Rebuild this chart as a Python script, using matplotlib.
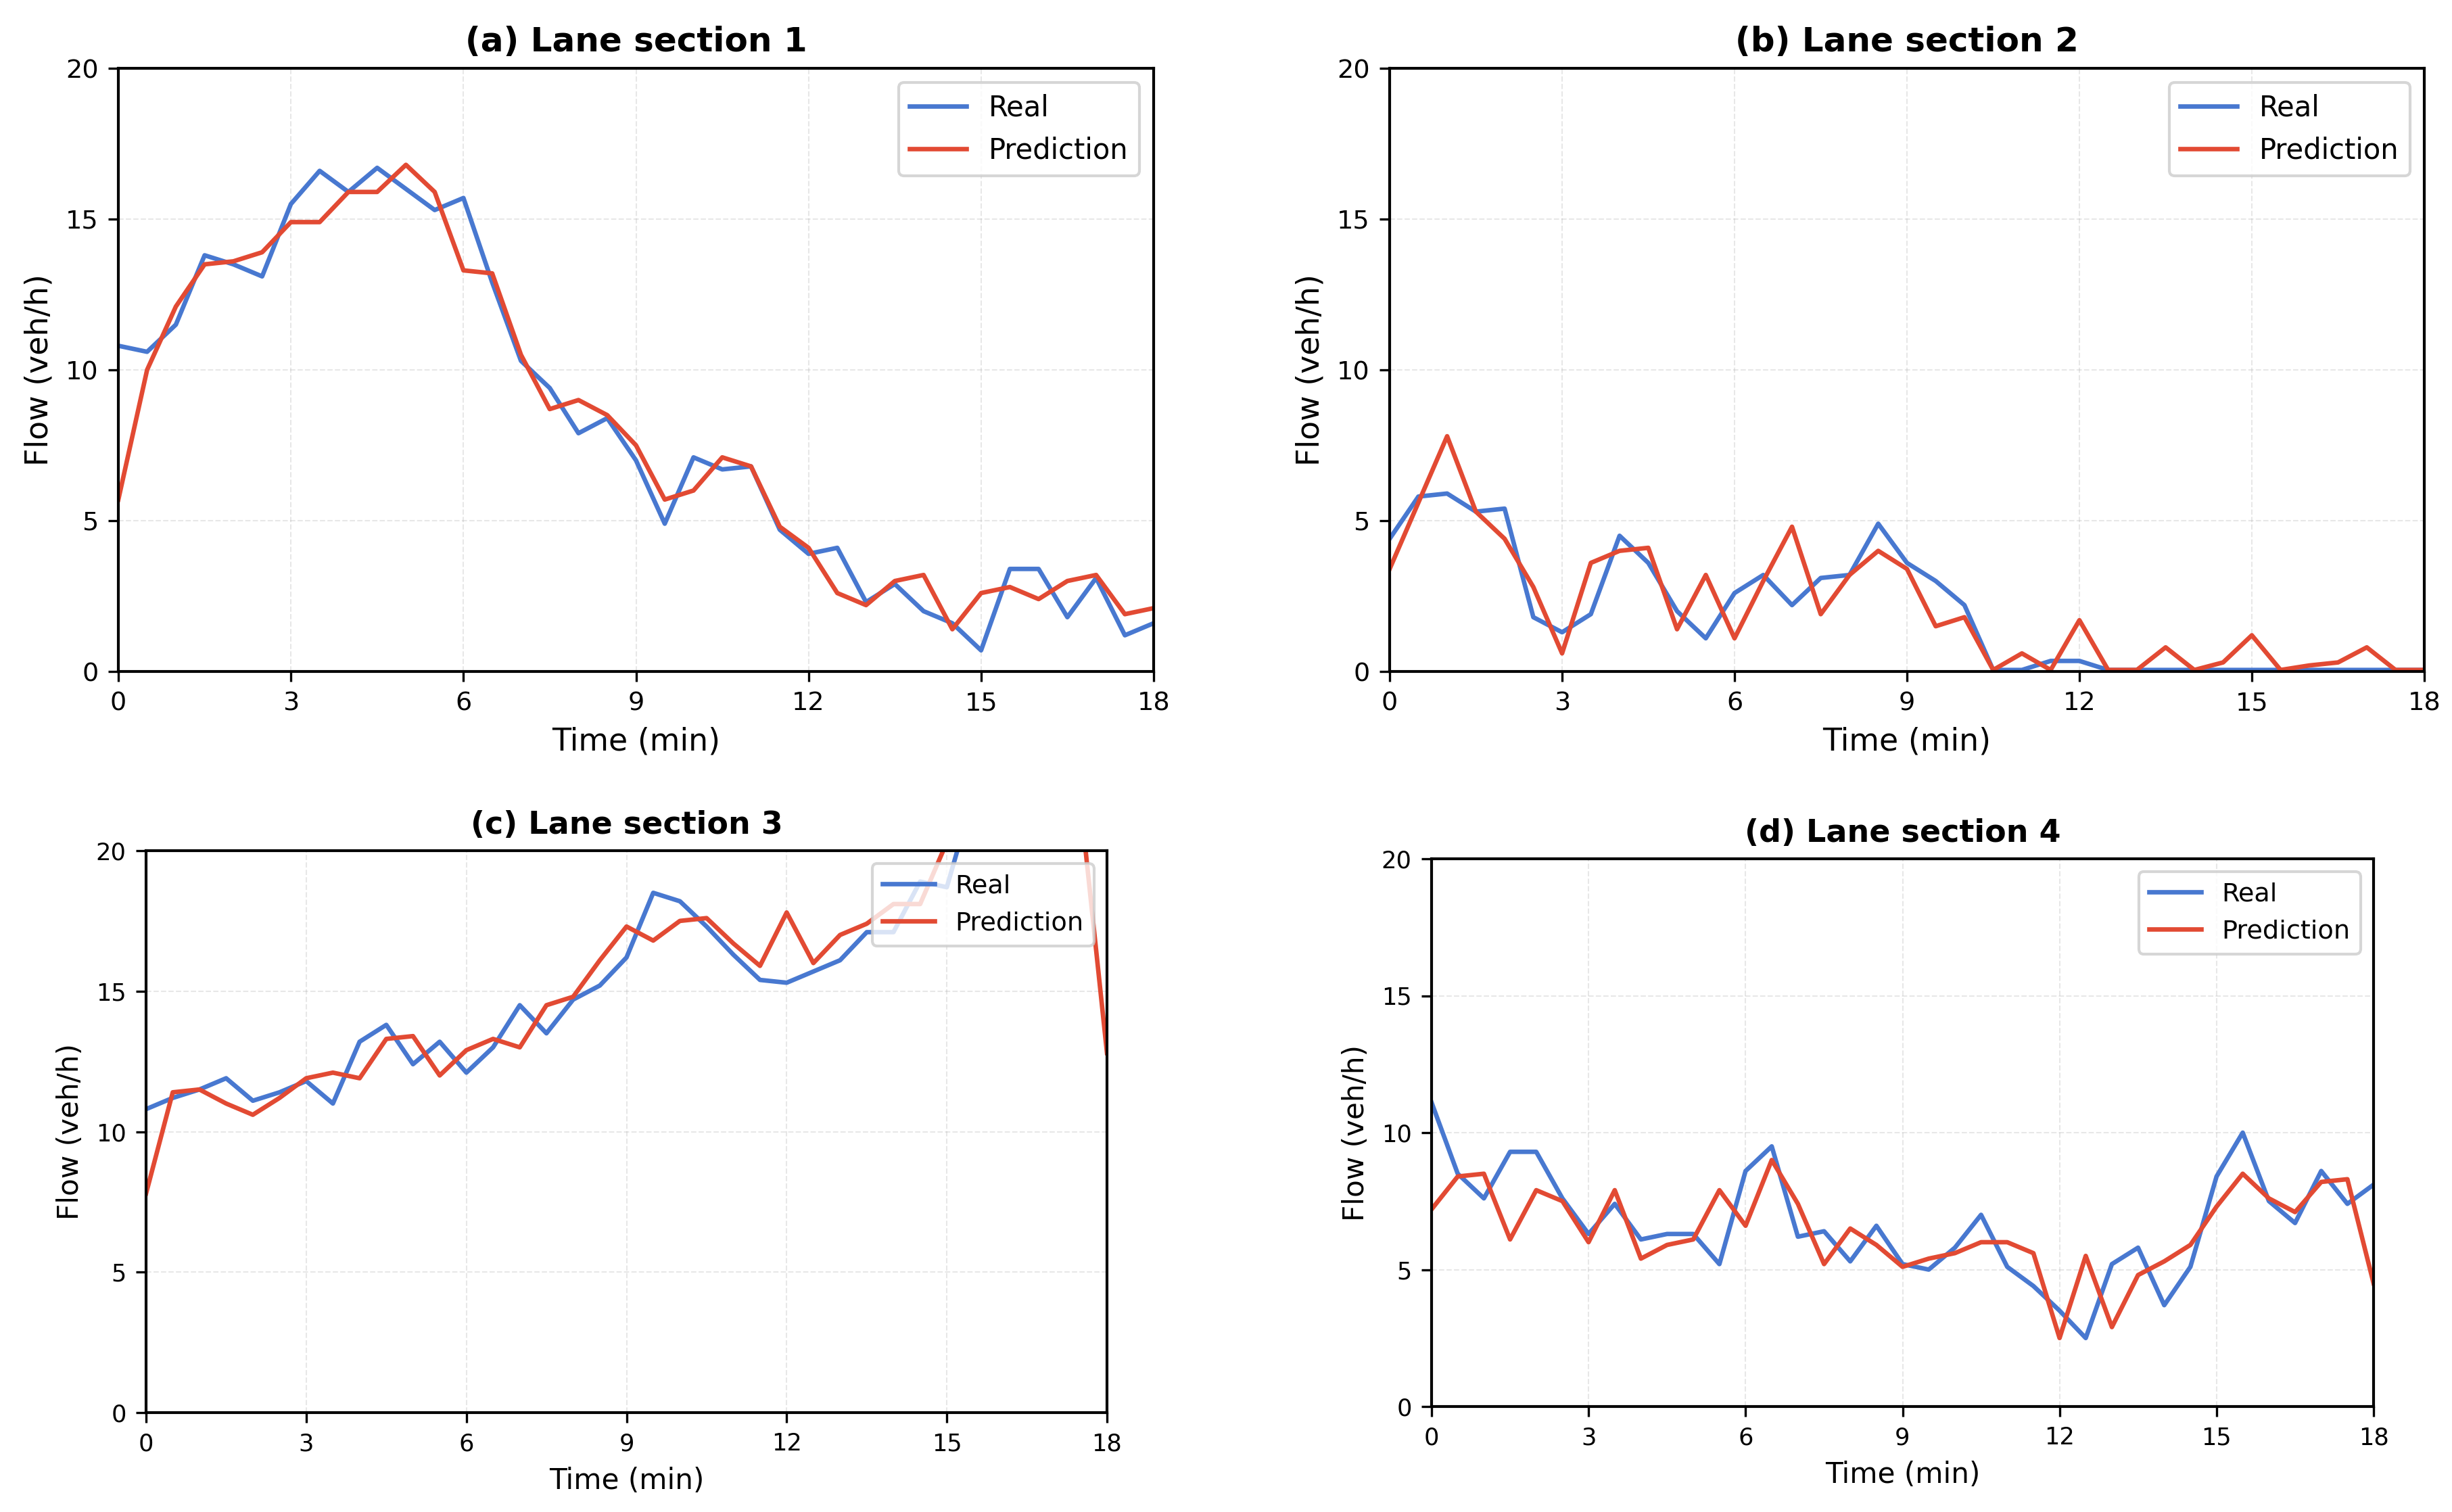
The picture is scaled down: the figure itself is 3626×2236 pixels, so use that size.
import numpy as np
import matplotlib
matplotlib.use('Agg')
import matplotlib.pyplot as plt

# time axis: 0 .. 18 min every 0.5 min
time_min = np.arange(0, 18.5, 0.5)

titles = ['(a) Lane section 1', '(b) Lane section 2',
          '(c) Lane section 3', '(d) Lane section 4']

real_1 = [10.8, 10.6, 11.5, 13.8, 13.5, 13.1, 15.5, 16.6, 15.9, 16.7, 16.0, 15.3, 15.7,
          12.9, 10.3, 9.4, 7.9, 8.4, 7.0, 4.9, 7.1, 6.7, 6.8, 4.7, 3.9, 4.1, 2.3,
          2.9, 2.0, 1.6, 0.7, 3.4, 3.4, 1.8, 3.1, 1.2, 1.6]
pred_1 = [5.7, 10.0, 12.1, 13.5, 13.6, 13.9, 14.9, 14.9, 15.9, 15.9, 16.8, 15.9, 13.3,
          13.2, 10.5, 8.7, 9.0, 8.5, 7.5, 5.7, 6.0, 7.1, 6.8, 4.8, 4.1, 2.6, 2.2,
          3.0, 3.2, 1.4, 2.6, 2.8, 2.4, 3.0, 3.2, 1.9, 2.1]

real_2 = [4.4, 5.8, 5.9, 5.3, 5.4, 1.8, 1.3, 1.9, 4.5, 3.6, 2.0, 1.1, 2.6,
          3.2, 2.2, 3.1, 3.2, 4.9, 3.6, 3.0, 2.2, 0.05, 0.05, 0.35, 0.35, 0.05, 0.05,
          0.05, 0.05, 0.05, 0.05, 0.05, 0.05, 0.05, 0.05, 0.05, 0.05]
pred_2 = [3.4, 5.6, 7.8, 5.3, 4.4, 2.8, 0.6, 3.6, 4.0, 4.1, 1.4, 3.2, 1.1,
          3.0, 4.8, 1.9, 3.2, 4.0, 3.4, 1.5, 1.8, 0.05, 0.6, 0.05, 1.7, 0.05, 0.05,
          0.8, 0.05, 0.3, 1.2, 0.05, 0.2, 0.3, 0.8, 0.05, 0.05]

# values above 20 are cut off by the axis in the original
real_3 = [10.8, 11.2, 11.5, 11.9, 11.1, 11.4, 11.8, 11.0, 13.2, 13.8, 12.4, 13.2, 12.1,
          13.0, 14.5, 13.5, 14.7, 15.2, 16.2, 18.5, 18.2, 17.3, 16.3, 15.4, 15.3, 15.7, 16.1,
          17.1, 17.1, 18.9, 18.7, 22.0, 23.5, 24.0, 23.0, 24.5, 25.0]
pred_3 = [7.8, 11.4, 11.5, 11.0, 10.6, 11.2, 11.9, 12.1, 11.9, 13.3, 13.4, 12.0, 12.9,
          13.3, 13.0, 14.5, 14.8, 16.1, 17.3, 16.8, 17.5, 17.6, 16.7, 15.9, 17.8, 16.0, 17.0,
          17.4, 18.1, 18.1, 20.3, 22.5, 23.0, 22.0, 23.5, 21.8, 12.8]

real_4 = [11.1, 8.5, 7.6, 9.3, 9.3, 7.6, 6.3, 7.4, 6.1, 6.3, 6.3, 5.2, 8.6,
          9.5, 6.2, 6.4, 5.3, 6.6, 5.2, 5.0, 5.8, 7.0, 5.1, 4.4, 3.5, 2.5, 5.2,
          5.8, 3.7, 5.1, 8.4, 10.0, 7.5, 6.7, 8.6, 7.4, 8.1]
pred_4 = [7.2, 8.4, 8.5, 6.1, 7.9, 7.5, 6.0, 7.9, 5.4, 5.9, 6.1, 7.9, 6.6,
          9.0, 7.4, 5.2, 6.5, 5.9, 5.1, 5.4, 5.6, 6.0, 6.0, 5.6, 2.5, 5.5, 2.9,
          4.8, 5.3, 5.9, 7.3, 8.5, 7.6, 7.1, 8.2, 8.3, 4.5]

real_all = [real_1, real_2, real_3, real_4]
pred_all = [pred_1, pred_2, pred_3, pred_4]

W, H = 3626, 2236
DPI = 300
fig = plt.figure(figsize=(W / DPI, H / DPI), dpi=DPI)

# axes boxes in pixels: left, right, top, bottom
boxes = [(175, 1706, 101, 993),
         (2055, 3585, 101, 993),
         (216, 1637, 1258, 2089),
         (2117, 3510, 1270, 2080)]
# the bottom row is a bit smaller in the original
scales = [1.0, 1.0, 0.92, 0.92]

for i in range(4):
    l, r, t, b = boxes[i]
    s = scales[i]
    ax = fig.add_axes([l / W, 1 - b / H, (r - l) / W, (b - t) / H])
    ax.plot(time_min, real_all[i], color='#4878D0', lw=1.6, label='Real')
    ax.plot(time_min, pred_all[i], color='#E24A33', lw=1.6, label='Prediction')
    ax.set_xlim(0, 18)
    ax.set_ylim(0, 20)
    ax.set_xticks(np.arange(0, 19, 3))
    ax.set_yticks(np.arange(0, 21, 5))
    ax.tick_params(labelsize=9.2 * s)
    ax.grid(True, linestyle='--', linewidth=0.5, alpha=0.3)
    for sp in ax.spines.values():
        sp.set_linewidth(1.0)
    ax.set_xlabel('Time (min)', fontsize=11 * s)
    ax.set_ylabel('Flow (veh/h)', fontsize=11 * s)
    ax.set_title(titles[i], fontsize=12 * s, fontweight='bold')
    ax.legend(loc='upper right', fontsize=10 * s)

fig.savefig('out.png', dpi=DPI)
